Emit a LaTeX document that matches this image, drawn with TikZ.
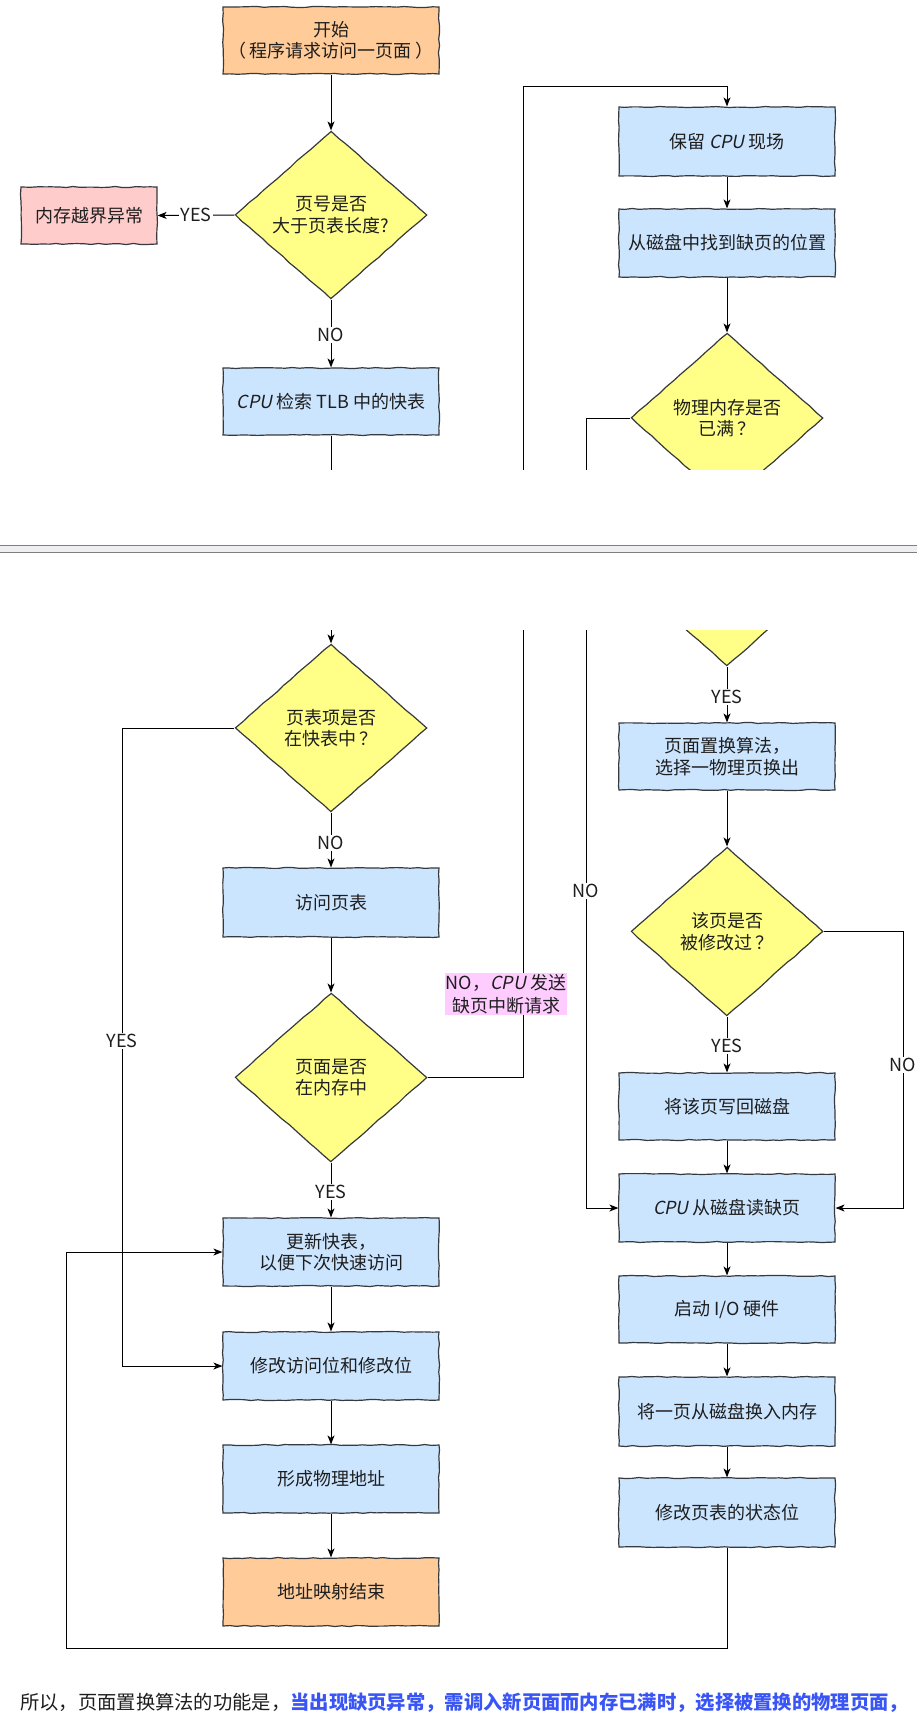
\documentclass[tikz,border=0pt]{standalone}
\usepackage{fontspec}
\setmainfont{Noto Sans CJK SC}
\newfontfamily\slf{Noto Sans CJK SC}[FakeSlant=0.2]
\usetikzlibrary{shapes.geometric,arrows.meta,decorations.pathmorphing}
\definecolor{orangef}{HTML}{FFCC99}
\definecolor{bluef}{HTML}{CCE5FF}
\definecolor{yellowf}{HTML}{FFFF88}
\definecolor{redf}{HTML}{FFCCCC}
\definecolor{pinkf}{HTML}{FFCCFF}
\definecolor{bord}{HTML}{36393D}
\definecolor{sepline}{HTML}{7F7F7F}
\definecolor{sepfill}{HTML}{EFEFF3}
\definecolor{bluetxt}{HTML}{3A55F5}
\definecolor{txt}{HTML}{1E1E1E}
\newcommand\cpu{{\slf CPU}}
\tikzset{
  x=1pt, y=-1pt,
  base/.style={draw=bord, line width=1.2pt, inner sep=0pt, align=center, text=txt,
    font=\fontsize{18}{21.5}\selectfont, decorate,
    decoration={random steps, segment length=7pt, amplitude=0.55pt}},
  box/.style={base, rectangle, minimum width=216pt, minimum height=68pt, fill=bluef},
  termbox/.style={box, fill=orangef},
  errbox/.style={base, rectangle, minimum width=136pt, minimum height=57pt, fill=redf},
  dia/.style={base, diamond, minimum width=192pt, minimum height=169pt, fill=yellowf,
    decoration={random steps, segment length=9pt, amplitude=0.4pt}},
  arr/.style={draw=black, line width=1pt, -{Stealth[length=9pt, width=7pt, inset=2.5pt]}},
  ln/.style={draw=black, line width=1pt},
  lbl/.style={fill=white, inner sep=1.5pt, text=txt, font=\fontsize{18}{21}\selectfont},
  pinklbl/.style={fill=pinkf, inner sep=1pt, align=center, text=txt, font=\fontsize{18}{22.5}\selectfont}
}
\begin{document}
\begin{tikzpicture}
\pgfmathsetseed{7}
\useasboundingbox (0,0) rectangle (917,1713);
\fill[white] (0,0) rectangle (917,1713);

% ---------------- top frame ----------------
\begin{scope}
\clip (0,0) rectangle (917,469);
\node[termbox, minimum height=67pt] (start) at (331,40.5) {开始\\（\hspace{4pt}程序请求访问一页面\hspace{4pt}）};
\node[dia, minimum height=168pt] (d1) at (331,215) {页号是否\\大于页表长度?};
\node[errbox] (err) at (89,215.5) {内存越界异常};
\node[box, minimum height=67pt] (tlb) at (331,401.5) {\cpu{} 检索 TLB 中的快表};
\node[box, minimum height=69pt] (r1) at (727,141.5) {保留 \cpu{} 现场};
\node[box] (r2) at (727,243) {从磁盘中找到缺页的位置};
\node[dia, minimum height=170pt] (d4) at (727,418) {物理内存是否\\已满\hspace{3pt}？};
\coordinate (tlbb) at (331,480);
\coordinate (loopb) at (523,480);
\coordinate (loopt) at (727,86);
\coordinate (d4b) at (586,480);

\draw[arr] (start.south) -- (d1.north);
\draw[arr] (d1.west) -- node[lbl, pos=0.5] {YES} (err.east);
\draw[arr] (d1.south) -- node[lbl, pos=0.52] {NO} (tlb.north);
\draw[ln] (tlb.south) -- (tlbb);
\draw[arr] (loopb) |- (loopt) -- (r1.north);
\draw[arr] (r1.south) -- (r2.north);
\draw[arr] (r2.south) -- (d4.north);
\draw[ln] (d4.west) -| (d4b);
\end{scope}

% ---------------- separator ----------------
\fill[sepfill] (0,545) rectangle (917,553);
\draw[sepline, line width=1pt] (0,545.5) -- (917,545.5);
\draw[sepline, line width=1pt] (0,552.5) -- (917,552.5);

% ---------------- bottom frame ----------------
\begin{scope}
\clip (0,630) rectangle (917,1713);
\node[dia, minimum height=170pt] (d4x) at (727,581) {物理内存是否\\已满\hspace{3pt}？};
\node[dia, minimum height=168pt] (d2) at (331,728) {页表项是否\\在快表中\hspace{3pt}？};
\node[box, minimum height=69pt] (vis) at (331,902.5) {访问页表};
\node[dia] (d3) at (331,1077.5) {页面是否\\在内存中};
\node[box] (upd) at (331,1252) {更新快表，\\以便下次快速访问};
\node[box] (mod) at (331,1366) {修改访问位和修改位};
\node[box] (phy) at (331,1479) {形成物理地址};
\node[termbox] (endn) at (331,1592) {地址映射结束};

\node[box, minimum height=67pt] (rep) at (727,756.5) {页面置换算法，\\选择一物理页换出};
\node[dia] (d5) at (727,931.5) {该页是否\\被修改过\hspace{3pt}？};
\node[box, minimum height=67pt] (wb) at (727,1106.5) {将该页写回磁盘};
\node[box] (rd) at (727,1208) {\cpu{} 从磁盘读缺页};
\node[box, minimum height=67pt] (io) at (727,1309.5) {启动 I/O 硬件};
\node[box, minimum height=69pt] (swp) at (727,1411.5) {将一页从磁盘换入内存};
\node[box, minimum height=69pt] (st) at (727,1512.5) {修改页表的状态位};

\coordinate (cin) at (331,600);
\coordinate (lp) at (523,600);
\coordinate (yesx) at (122,0);
\coordinate (lx) at (586,0);
\coordinate (rx) at (903,0);
\coordinate (bl) at (66,1648);

\draw[arr] (cin) -- (d2.north);
\draw[arr] (d2.west) -| (mod.west -| yesx) -- (mod.west);
\draw[arr] (d2.south) -- (vis.north);
\draw[arr] (vis.south) -- (d3.north);
\draw[ln] (d3.east) -| (lp);
\draw[arr] (d3.south) -- (upd.north);
\draw[arr] (upd.south) -- (mod.north);
\draw[arr] (mod.south) -- (phy.north);
\draw[arr] (phy.south) -- (endn.north);
\draw[arr] (st.south) |- (bl) |- (upd.west);

\draw[arr] (d4x.south) -- (rep.north);
\draw[arr] (rep.south) -- (d5.north);
\draw[arr] (d5.south) -- (wb.north);
\draw[arr] (wb.south) -- (rd.north);
\draw[arr] (d5.east) -| (rd.east -| rx) -- (rd.east);
\draw[arr] (d4x.west) -| (rd.west -| lx) -- (rd.west);
\draw[arr] (rd.south) -- (io.north);
\draw[arr] (io.south) -- (swp.north);
\draw[arr] (swp.south) -- (st.north);

\node[lbl] (l1) at (331,843) {NO};
\node[lbl] (l2) at (122,1041) {YES};
\node[lbl] (l3) at (331,1192) {YES};
\node[lbl] (l4) at (727,697) {YES};
\node[lbl] (l5) at (586,891) {NO};
\node[lbl] (l6) at (903,1065) {NO};
\node[lbl] (l7) at (727,1046) {YES};
\node[pinklbl] (l8) at (506,994) {NO，\cpu{} 发送\\缺页中断请求};
\end{scope}

% ---------------- caption text ----------------
\node[anchor=base west, inner sep=0pt, font=\fontsize{19.3}{22}\selectfont] (cap) at (20,1709)
  {\color{txt}所以，页面置换算法的功能是，\color{bluetxt}\bfseries 当出现缺页异常，需调入新页面而内存已满时，选择被置换的物理页面，};
\end{tikzpicture}
\end{document}
